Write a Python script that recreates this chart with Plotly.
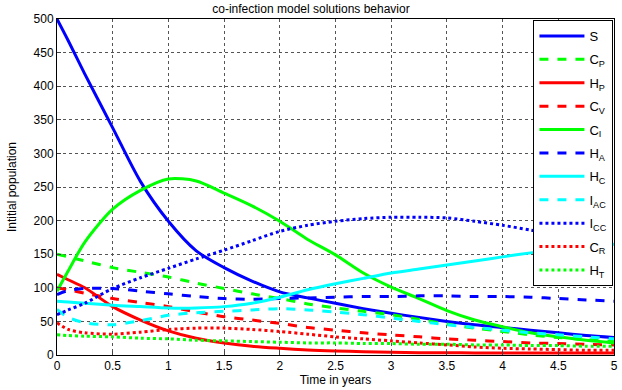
import plotly.graph_objects as go

t = [0, 0.1, 0.25, 0.5, 0.75, 1, 1.25, 1.5, 1.75, 2, 2.25, 2.5, 2.75, 3, 3.25, 3.5, 3.75, 4, 4.25, 4.5, 4.75, 5]

S    = [500, 468, 418, 338, 258, 199, 155, 130, 110, 94, 85, 77, 69, 62, 56, 50, 45, 41, 37, 33, 29, 26]
C_P  = [150, 146, 140, 130, 123, 116, 107, 99, 91, 84, 76, 70, 65, 60, 53, 46, 40, 35, 30, 26, 23, 20]
H_P  = [120, 112, 100, 72, 52, 36, 25, 18, 13, 10, 7.5, 6, 5, 4, 3.5, 3.5, 3, 3, 3, 3, 3, 3]
C_V  = [100, 97, 92, 84, 78, 72, 64, 57, 52, 47, 41, 37, 33, 30, 27, 24, 22, 20, 18, 17, 16, 15]
C_I  = [95, 125, 168, 217, 245, 262, 259, 241, 222, 199, 172, 149, 122, 101, 84, 66, 52, 42, 33, 27, 22, 18]
H_A  = [90, 96, 99, 99, 95, 91, 87, 84, 83, 84, 85, 86, 87, 87, 88, 88, 87, 87, 86, 84, 82, 80]
H_C  = [80, 79, 77, 74, 72, 70, 70, 72, 77, 86, 97, 106, 114, 122, 128, 134, 140, 146, 152, 157, 161, 165]
I_AC = [68, 56, 48, 45, 51, 59, 63, 65, 67, 69, 67, 64, 60, 55, 50, 45, 41, 37, 33, 30, 27, 24]
I_CC = [60, 67, 77, 99, 115, 129, 143, 156, 170, 184, 193, 199, 203, 205, 205, 204, 199, 193, 186, 179, 171, 163]
C_R  = [48, 38, 33, 31, 34, 38, 40, 40, 38, 35, 31, 27, 24, 21, 18, 15, 12, 10, 9, 8, 7, 7]
H_T  = [30, 29, 28, 27, 25, 24, 22, 21, 20, 19, 18, 18, 17, 17, 16, 16, 15, 15, 14, 14, 13, 13]

names = ["S", "C<sub>P</sub>", "H<sub>P</sub>", "C<sub>V</sub>", "C<sub>I</sub>", "H<sub>A</sub>",
         "H<sub>C</sub>", "I<sub>AC</sub>", "I<sub>CC</sub>", "C<sub>R</sub>", "H<sub>T</sub>"]
series = [S, C_P, H_P, C_V, C_I, H_A, H_C, I_AC, I_CC, C_R, H_T]
colors = ["#0000FF", "#00FF00", "#FF0000", "#FF0000", "#00FF00", "#0000FF",
          "#00FFFF", "#00FFFF", "#0000FF", "#FF0000", "#00FF00"]
dashes = ["solid", "dash", "solid", "dash", "solid", "dash", "solid", "dash", "dot", "dot", "dot"]

fig = go.Figure()
for i, (n, y, c, d) in enumerate(zip(names, series, colors, dashes)):
    fig.add_trace(go.Scatter(x=t, y=y, name=n, mode="lines", legendgroup=f"g{i}",
                             line=dict(color=c, dash=d, width=3, shape="spline", smoothing=0.8)))

font = "Liberation Sans, Arial, sans-serif"
fig.update_layout(
    width=622, height=390,
    margin=dict(l=57, r=4, t=19, b=35),
    paper_bgcolor="white", plot_bgcolor="white",
    font=dict(family=font, size=12, color="black"),
    title=dict(text="co-infection model solutions behavior", x=0.5, xanchor="center",
               y=1 - 9 / 390, yanchor="middle", yref="container", font=dict(size=12)),
    xaxis=dict(range=[0, 5], dtick=0.5, showgrid=True, gridcolor="#555", griddash="dot", gridwidth=1,
               showline=True, linecolor="black", mirror=True, ticks="inside", ticklen=4,
               tickformat="~g", zeroline=False,
               title=dict(text="Time in years", standoff=1, font=dict(size=12))),
    yaxis=dict(range=[0, 500], dtick=50, showgrid=True, gridcolor="#555", griddash="dot", gridwidth=1,
               showline=True, linecolor="black", mirror=True, ticks="inside", ticklen=4, zeroline=False,
               title=dict(text="Intitial population", standoff=14, font=dict(size=12))),
    legend=dict(x=0.999, y=0.997, xanchor="right", yanchor="top", bgcolor="white",
                bordercolor="black", borderwidth=1, font=dict(size=13), tracegroupgap=3.5,
                itemwidth=45),
    showlegend=True,
)

fig.write_html("out.html", config={"displayModeBar": False},
               post_script="document.body.style.margin='0px';document.body.style.overflow='hidden';")
